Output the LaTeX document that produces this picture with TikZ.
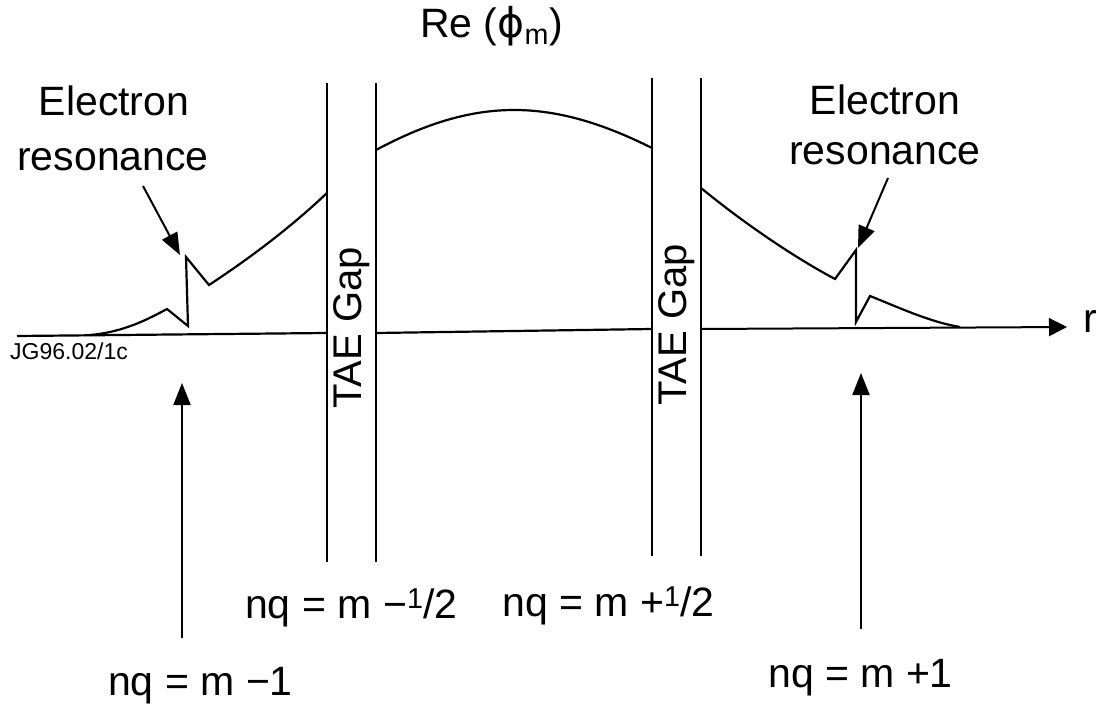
\documentclass[tikz,border=0pt]{standalone}
\usepackage{fontspec}
\setmainfont{Liberation Sans}
\newfontfamily\greekfont{DejaVu Sans}
\usetikzlibrary{arrows.meta}

\begin{document}
\begin{tikzpicture}[x=1pt, y=-1pt,
    curve/.style={line width=2.2pt, line join=miter},
    gapline/.style={line width=1.8pt},
    lbl/.style={inner sep=0pt, font=\fontsize{41}{49}\selectfont},
    arr/.style={-{Triangle[length=22pt, width=17pt]}, line width=2pt},
    axisarr/.style={-{Triangle[length=18pt, width=18pt]}, line width=2pt}
  ]
  \useasboundingbox (0,0) rectangle (1104,709);

  % labels
  \node[lbl, anchor=base west] (title) at (420,38) {Re ({\greekfont ϕ}\textsubscript{m})};
  \node[lbl, anchor=base] (elL) at (114,116) {Electron};
  \node[lbl, anchor=base] (resL) at (113,170) {resonance};
  \node[lbl, anchor=base] (elR) at (885,114) {Electron};
  \node[lbl, anchor=base] (resR) at (885,164) {resonance};
  \node[lbl, anchor=base west] (rlab) at (1083,332) {r};
  \node[lbl, anchor=base west, font=\fontsize{23}{27}\selectfont] (jg) at (10,359) {JG96.02/1c};
  \node[lbl, rotate=90, font=\fontsize{40}{48}\selectfont] (gapA) at (352,328) {TAE Gap};
  \node[lbl, rotate=90, font=\fontsize{40}{48}\selectfont] (gapB) at (677,325) {TAE Gap};
  \node[lbl, anchor=base west] (nqA) at (245,618) {nq = m −\textsuperscript{1}/2};
  \node[lbl, anchor=base west] (nqB) at (502,616) {nq = m +\textsuperscript{1}/2};
  \node[lbl, anchor=base west] (nqC) at (108,695) {nq = m −1};
  \node[lbl, anchor=base west] (nqD) at (768,687) {nq = m +1};

  % TAE gap boundaries
  \draw[gapline] (327,83) -- (327,562);
  \draw[gapline] (376,83) -- (376,562);
  \draw[gapline] (652,78) -- (652,556);
  \draw[gapline] (701,78) -- (701,556);

  % r axis
  \draw[curve] (17,336) -- (327,333);
  \draw[curve] (376,333) -- (652,329);
  \draw[axisarr] (701,329) -- (1067,327);

  % Re(phi_m)
  \draw[curve] (90,335) .. controls (125,332) and (150,318) .. (167,309)
    -- (188,326) -- (186,257) -- (209,285)
    .. controls (250,258) and (290,228) .. (327,193);
  \draw[curve] (376,150) .. controls (475,97) and (550,97) .. (652,148);
  \draw[curve] (701,188) .. controls (740,220) and (790,255) .. (835,279)
    -- (856,250) -- (856,322) -- (870,296)
    .. controls (900,308) and (930,322) .. (960,327);

  % resonance arrows
  \coordinate (tailL) at (143,186);
  \coordinate (tipL) at (180,255);
  \coordinate (tailR) at (888,178);
  \coordinate (tipR) at (858,248);
  \draw[arr] (tailL) -- (tipL);
  \draw[arr] (tailR) -- (tipR);

  % nq = m -1, m +1
  \coordinate (baseA) at (182,638);
  \coordinate (upA) at (182,383);
  \coordinate (baseB) at (861,629);
  \coordinate (upB) at (861,373);
  \draw[arr] (baseA) -- (upA);
  \draw[arr] (baseB) -- (upB);
\end{tikzpicture}
\end{document}
